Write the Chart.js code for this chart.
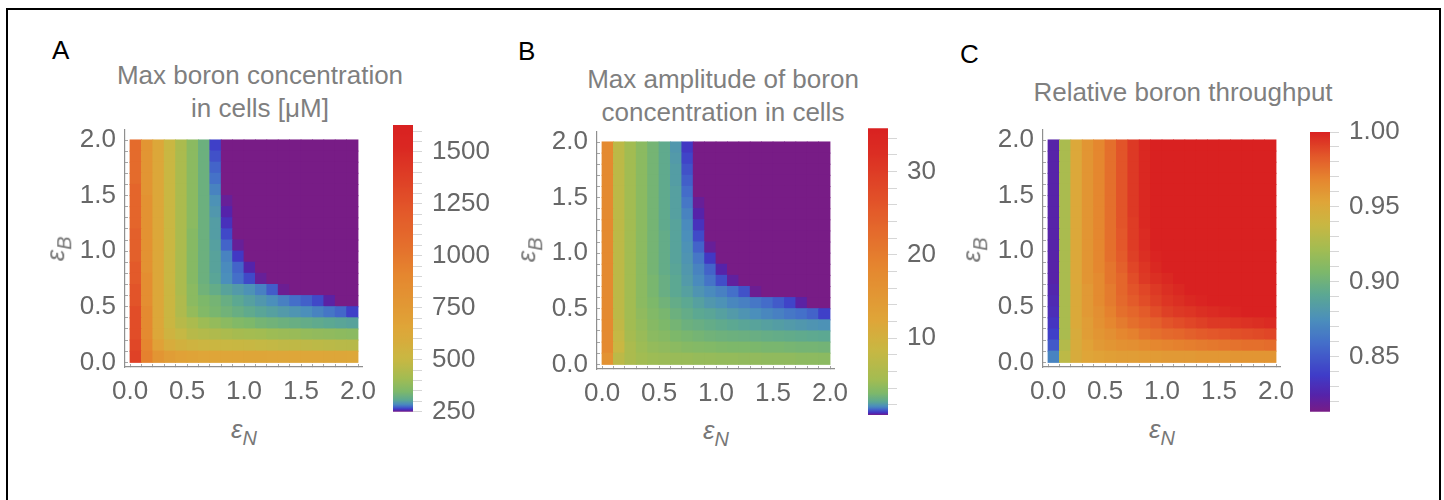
<!DOCTYPE html>
<html lang="en">
<head>
<meta charset="UTF-8">
<title>Boron concentration heatmaps</title>
<script src="https://cdn.jsdelivr.net/npm/chart.js"></script>
<style>
  body { margin: 0; background: #fff; }
  #figure { position: relative; width: 1444px; height: 500px; overflow: hidden; background: #fff;
            font-family: "Liberation Sans", Arial, sans-serif; }
  #frame { position: absolute; left: 6px; top: 8px; width: 1435px; height: 600px;
           border: 2px solid #000; box-sizing: border-box; }
  canvas { position: absolute; }
  .letter { position: absolute; font-size: 26px; line-height: 33px; color: #000; }
  .title { position: absolute; width: 400px; text-align: center; font-size: 26px; line-height: 33px;
           color: #7f7f7f; white-space: nowrap; }
  .eps { position: absolute; width: 60px; text-align: center; font-size: 26px; line-height: 30px;
         color: #777; font-style: italic; white-space: nowrap; }
  .eps span { position: relative; top: 7px; font-size: 20px; }
  .eps.rot { transform-origin: 30px 20.75px; transform: rotate(-90deg); }
</style>
</head>
<body>
<div id="figure">
  <div id="frame"></div>

  <div class="letter" style="left:52px;top:34px">A</div>
  <div class="letter" style="left:518px;top:35px">B</div>
  <div class="letter" style="left:960px;top:38px">C</div>

  <div class="title" style="left:60px;top:59px">Max boron concentration<br>in cells [μM]</div>
  <div class="title" style="left:523px;top:63px">Max amplitude of boron<br>concentration in cells</div>
  <div class="title" style="left:983px;top:76px">Relative boron throughput</div>

  <canvas id="heatA" width="320" height="290" style="left:60px;top:120px"></canvas>
  <canvas id="barA" width="110" height="320" style="left:393px;top:110px"></canvas>
  <canvas id="heatB" width="320" height="290" style="left:532px;top:122px"></canvas>
  <canvas id="barB" width="110" height="320" style="left:868px;top:113px"></canvas>
  <canvas id="heatC" width="320" height="290" style="left:978px;top:120px"></canvas>
  <canvas id="barC" width="110" height="320" style="left:1310px;top:112px"></canvas>

  <div class="eps" style="left:214px;top:414px">ε<span>N</span></div>
  <div class="eps" style="left:686px;top:415px">ε<span>N</span></div>
  <div class="eps" style="left:1132px;top:414px">ε<span>N</span></div>
  <div class="eps rot" style="left:31px;top:228px">ε<span>B</span></div>
  <div class="eps rot" style="left:502px;top:229px">ε<span>B</span></div>
  <div class="eps rot" style="left:947px;top:229px">ε<span>B</span></div>
</div>

<script>
Chart.defaults.font.family = "'Liberation Sans', Arial, sans-serif";

// cell centres: epsN left to right, epsB from the top row down
const epsN = [0.05, 0.15, 0.25, 0.35, 0.45, 0.55, 0.65, 0.75, 0.85, 0.95, 1.05, 1.15, 1.25, 1.35, 1.45, 1.55, 1.65, 1.75, 1.85, 1.95];
const epsB = [1.95, 1.85, 1.75, 1.65, 1.55, 1.45, 1.35, 1.25, 1.15, 1.05, 0.95, 0.85, 0.75, 0.65, 0.55, 0.45, 0.35, 0.25, 0.15, 0.05];
const cellSize = 0.1;

const axisTicks = [0, 0.1, 0.2, 0.3, 0.4, 0.5, 0.6, 0.7, 0.8, 0.9, 1, 1.1, 1.2, 1.3, 1.4, 1.5, 1.6, 1.7, 1.8, 1.9, 2];
const axisLabels = ['0.0', '', '', '', '', '0.5', '', '', '', '', '1.0', '', '', '', '', '1.5', '', '', '', '', '2.0'];

// panel A: max boron concentration in cells [uM]
const maxConcentration = [
  [1080, 782, 637, 508, 431, 371, 326, 264, 250, 250, 250, 250, 250, 250, 250, 250, 250, 250, 250, 250],
  [1080, 782, 637, 508, 431, 371, 326, 268, 250, 250, 250, 250, 250, 250, 250, 250, 250, 250, 250, 250],
  [1080, 782, 637, 508, 431, 371, 326, 273, 250, 250, 250, 250, 250, 250, 250, 250, 250, 250, 250, 250],
  [1080, 782, 637, 508, 431, 371, 326, 277, 250, 250, 250, 250, 250, 250, 250, 250, 250, 250, 250, 250],
  [1121, 782, 637, 508, 431, 371, 326, 282, 250, 250, 250, 250, 250, 250, 250, 250, 250, 250, 250, 250],
  [1121, 814, 637, 508, 431, 371, 326, 290, 253, 250, 250, 250, 250, 250, 250, 250, 250, 250, 250, 250],
  [1121, 814, 637, 508, 431, 371, 326, 294, 256, 250, 250, 250, 250, 250, 250, 250, 250, 250, 250, 250],
  [1121, 814, 637, 508, 431, 371, 326, 298, 260, 250, 250, 250, 250, 250, 250, 250, 250, 250, 250, 250],
  [1161, 814, 637, 508, 431, 363, 326, 298, 266, 250, 250, 250, 250, 250, 250, 250, 250, 250, 250, 250],
  [1161, 814, 637, 508, 431, 363, 326, 300, 273, 253, 250, 250, 250, 250, 250, 250, 250, 250, 250, 250],
  [1161, 814, 637, 508, 431, 363, 326, 302, 282, 262, 250, 250, 250, 250, 250, 250, 250, 250, 250, 250],
  [1202, 814, 637, 508, 431, 363, 326, 302, 286, 273, 256, 250, 250, 250, 250, 250, 250, 250, 250, 250],
  [1202, 847, 637, 508, 431, 363, 326, 304, 288, 276, 266, 253, 250, 250, 250, 250, 250, 250, 250, 250],
  [1242, 847, 637, 516, 431, 371, 332, 316, 302, 296, 290, 281, 271, 252, 250, 250, 250, 250, 250, 250],
  [1242, 847, 637, 516, 441, 371, 347, 337, 321, 306, 300, 294, 288, 281, 276, 272, 266, 255, 250, 250],
  [1282, 879, 637, 516, 441, 387, 355, 342, 332, 321, 311, 304, 300, 296, 292, 288, 282, 278, 274, 264],
  [1282, 879, 637, 516, 461, 431, 403, 387, 371, 355, 347, 337, 332, 326, 321, 316, 311, 306, 304, 302],
  [1282, 879, 637, 540, 492, 461, 451, 441, 431, 421, 416, 411, 403, 399, 395, 387, 383, 379, 375, 371],
  [1323, 911, 685, 589, 557, 540, 524, 516, 508, 505, 500, 492, 487, 482, 479, 476, 471, 466, 463, 461],
  [1363, 943, 782, 717, 685, 673, 661, 661, 661, 661, 656, 656, 651, 651, 649, 649, 649, 647, 647, 644]
];

// panel B: max amplitude of boron concentration in cells
const maxAmplitude = [
  [17.8, 7.4, 5.0, 4.0, 3.15, 2.53, 2.06, 1.13, 0.8, 0.8, 0.8, 0.8, 0.8, 0.8, 0.8, 0.8, 0.8, 0.8, 0.8, 0.8],
  [17.8, 7.4, 5.0, 4.0, 3.15, 2.53, 2.12, 1.23, 0.8, 0.8, 0.8, 0.8, 0.8, 0.8, 0.8, 0.8, 0.8, 0.8, 0.8, 0.8],
  [17.8, 7.4, 5.0, 4.0, 3.15, 2.53, 2.17, 1.33, 0.8, 0.8, 0.8, 0.8, 0.8, 0.8, 0.8, 0.8, 0.8, 0.8, 0.8, 0.8],
  [17.8, 7.4, 5.0, 4.0, 3.15, 2.53, 2.17, 1.43, 0.8, 0.8, 0.8, 0.8, 0.8, 0.8, 0.8, 0.8, 0.8, 0.8, 0.8, 0.8],
  [17.8, 7.4, 5.0, 4.0, 3.15, 2.53, 2.23, 1.53, 0.8, 0.8, 0.8, 0.8, 0.8, 0.8, 0.8, 0.8, 0.8, 0.8, 0.8, 0.8],
  [17.8, 7.4, 5.0, 4.0, 3.15, 2.53, 2.23, 1.62, 0.86, 0.8, 0.8, 0.8, 0.8, 0.8, 0.8, 0.8, 0.8, 0.8, 0.8, 0.8],
  [17.8, 7.4, 5.0, 4.0, 3.15, 2.53, 2.23, 1.72, 0.93, 0.8, 0.8, 0.8, 0.8, 0.8, 0.8, 0.8, 0.8, 0.8, 0.8, 0.8],
  [17.8, 7.4, 5.0, 4.0, 3.15, 2.53, 2.29, 1.83, 1.07, 0.8, 0.8, 0.8, 0.8, 0.8, 0.8, 0.8, 0.8, 0.8, 0.8, 0.8],
  [17.8, 7.4, 5.0, 4.0, 3.15, 2.65, 2.29, 1.89, 1.27, 0.8, 0.8, 0.8, 0.8, 0.8, 0.8, 0.8, 0.8, 0.8, 0.8, 0.8],
  [17.8, 7.4, 5.0, 4.0, 3.15, 2.65, 2.29, 1.95, 1.46, 0.86, 0.8, 0.8, 0.8, 0.8, 0.8, 0.8, 0.8, 0.8, 0.8, 0.8],
  [17.8, 7.4, 5.0, 4.0, 3.15, 2.65, 2.29, 2.00, 1.62, 1.13, 0.8, 0.8, 0.8, 0.8, 0.8, 0.8, 0.8, 0.8, 0.8, 0.8],
  [17.8, 7.4, 5.0, 4.0, 3.15, 2.65, 2.34, 2.06, 1.72, 1.46, 0.93, 0.8, 0.8, 0.8, 0.8, 0.8, 0.8, 0.8, 0.8, 0.8],
  [17.8, 7.4, 5.0, 4.0, 3.28, 2.78, 2.40, 2.12, 1.83, 1.59, 1.30, 0.88, 0.8, 0.8, 0.8, 0.8, 0.8, 0.8, 0.8, 0.8],
  [17.8, 7.4, 5.0, 4.0, 3.28, 2.78, 2.40, 2.23, 2.00, 1.83, 1.69, 1.56, 1.33, 0.84, 0.8, 0.8, 0.8, 0.8, 0.8, 0.8],
  [17.8, 7.4, 5.0, 4.0, 3.4, 3.03, 2.65, 2.40, 2.23, 2.06, 1.95, 1.78, 1.69, 1.62, 1.53, 1.40, 1.23, 0.90, 0.8, 0.8],
  [17.8, 7.4, 5.0, 4.2, 3.6, 3.28, 2.90, 2.65, 2.40, 2.34, 2.23, 2.12, 2.00, 1.89, 1.78, 1.69, 1.62, 1.56, 1.46, 1.20],
  [17.8, 7.83, 5.0, 4.4, 3.8, 3.4, 3.15, 2.90, 2.78, 2.65, 2.53, 2.40, 2.34, 2.29, 2.23, 2.17, 2.12, 2.06, 2.00, 1.95],
  [17.8, 8.27, 5.4, 4.6, 4.0, 3.8, 3.4, 3.28, 3.15, 3.03, 2.96, 2.90, 2.84, 2.78, 2.71, 2.65, 2.59, 2.53, 2.46, 2.40],
  [17.8, 8.7, 5.8, 4.8, 4.4, 4.2, 4.0, 3.8, 3.7, 3.6, 3.5, 3.4, 3.4, 3.34, 3.28, 3.28, 3.21, 3.15, 3.15, 3.09],
  [16.2, 7.4, 5.8, 5.0, 4.8, 4.7, 4.6, 4.6, 4.5, 4.5, 4.4, 4.4, 4.3, 4.3, 4.2, 4.2, 4.2, 4.1, 4.1, 4.0]
];

// panel C: relative boron throughput
const throughput = [
  [0.824, 0.925, 0.951, 0.961, 0.968, 0.976, 0.985, 0.993, 0.998, 1, 1, 1, 1, 1, 1, 1, 1, 1, 1, 1],
  [0.824, 0.925, 0.951, 0.961, 0.968, 0.976, 0.985, 0.993, 0.998, 1, 1, 1, 1, 1, 1, 1, 1, 1, 1, 1],
  [0.824, 0.925, 0.951, 0.961, 0.968, 0.976, 0.985, 0.993, 0.998, 1, 1, 1, 1, 1, 1, 1, 1, 1, 1, 1],
  [0.824, 0.925, 0.951, 0.961, 0.968, 0.976, 0.985, 0.993, 0.998, 1, 1, 1, 1, 1, 1, 1, 1, 1, 1, 1],
  [0.824, 0.925, 0.951, 0.961, 0.968, 0.976, 0.985, 0.993, 0.998, 1, 1, 1, 1, 1, 1, 1, 1, 1, 1, 1],
  [0.824, 0.925, 0.951, 0.961, 0.968, 0.976, 0.985, 0.993, 0.998, 1, 1, 1, 1, 1, 1, 1, 1, 1, 1, 1],
  [0.824, 0.925, 0.951, 0.961, 0.968, 0.976, 0.985, 0.993, 0.998, 1, 1, 1, 1, 1, 1, 1, 1, 1, 1, 1],
  [0.824, 0.925, 0.951, 0.961, 0.968, 0.976, 0.985, 0.992, 0.998, 1, 1, 1, 1, 1, 1, 1, 1, 1, 1, 1],
  [0.824, 0.925, 0.951, 0.961, 0.968, 0.976, 0.984, 0.992, 0.997, 1, 1, 1, 1, 1, 1, 1, 1, 1, 1, 1],
  [0.824, 0.925, 0.951, 0.961, 0.968, 0.976, 0.984, 0.992, 0.997, 1, 1, 1, 1, 1, 1, 1, 1, 1, 1, 1],
  [0.824, 0.925, 0.951, 0.961, 0.968, 0.976, 0.983, 0.991, 0.996, 0.999, 1, 1, 1, 1, 1, 1, 1, 1, 1, 1],
  [0.824, 0.925, 0.951, 0.961, 0.968, 0.974, 0.981, 0.989, 0.994, 0.998, 1, 1, 1, 1, 1, 1, 1, 1, 1, 1],
  [0.824, 0.925, 0.951, 0.961, 0.966, 0.974, 0.979, 0.987, 0.993, 0.996, 0.998, 1, 1, 1, 1, 1, 1, 1, 1, 1],
  [0.826, 0.925, 0.950, 0.959, 0.966, 0.972, 0.979, 0.985, 0.989, 0.993, 0.996, 0.998, 1, 1, 1, 1, 1, 1, 1, 1],
  [0.828, 0.925, 0.950, 0.959, 0.966, 0.972, 0.978, 0.983, 0.987, 0.991, 0.994, 0.996, 0.998, 0.999, 1, 1, 1, 1, 1, 1],
  [0.830, 0.925, 0.950, 0.959, 0.964, 0.970, 0.976, 0.979, 0.983, 0.987, 0.991, 0.993, 0.994, 0.996, 0.997, 0.998, 0.999, 1, 1, 1],
  [0.834, 0.925, 0.950, 0.957, 0.963, 0.968, 0.972, 0.976, 0.979, 0.981, 0.985, 0.987, 0.989, 0.991, 0.993, 0.993, 0.994, 0.995, 0.996, 0.997],
  [0.839, 0.925, 0.948, 0.957, 0.961, 0.964, 0.968, 0.970, 0.974, 0.976, 0.978, 0.979, 0.981, 0.983, 0.984, 0.985, 0.986, 0.987, 0.988, 0.989],
  [0.850, 0.929, 0.948, 0.955, 0.959, 0.961, 0.963, 0.964, 0.966, 0.968, 0.969, 0.970, 0.971, 0.972, 0.973, 0.974, 0.975, 0.976, 0.976, 0.977],
  [0.869, 0.933, 0.948, 0.953, 0.955, 0.956, 0.957, 0.957, 0.958, 0.958, 0.959, 0.959, 0.959, 0.960, 0.960, 0.960, 0.961, 0.961, 0.961, 0.961]
];

// rainbow gradient (position 0..1 -> colour)
const rainbowStops = [0, 0.06, 0.13, 0.25, 0.33, 0.42, 0.50, 0.58, 0.67, 0.75, 0.83, 0.91, 1];
const rainbowColors = ['#781c86', '#5523aa', '#3f3cc8', '#4470c9', '#4b8fbb', '#5ca892', '#7db86a',
                       '#a2bc52', '#c9b742', '#dfa538', '#e5862f', '#e35a2a', '#d92121'];

// colour bar scaling: value -> position on the gradient
const levelsA = [250, 258, 266, 282, 306, 347, 411, 492, 589, 685, 782, 911, 1040, 1202, 1363, 1524, 1629];
const posA = [0, 0.08, 0.16, 0.30, 0.42, 0.50, 0.58, 0.66, 0.72, 0.76, 0.79, 0.83, 0.87, 0.91, 0.95, 0.99, 1];
const levelsB = [0.8, 0.9, 1.2, 1.72, 2.4, 3.4, 5.0, 7.4, 10, 12.2, 16.2, 21, 26.2, 32.2, 35.2];
const posB = [0, 0.05, 0.14, 0.30, 0.42, 0.50, 0.58, 0.64, 0.70, 0.75, 0.80, 0.86, 0.92, 0.98, 1];
const levelsC = [0.8133, 1.0];
const posC = [0, 1];

const ticksA = [250, 300, 350, 400, 450, 500, 550, 600, 650, 700, 750, 800, 850, 900, 950, 1000,
                1050, 1100, 1150, 1200, 1250, 1300, 1350, 1400, 1450, 1500, 1550, 1600];
const labelsA = ['250', '', '', '', '', '500', '', '', '', '', '750', '', '', '', '', '1000',
                 '', '', '', '', '1250', '', '', '', '', '1500', '', ''];
const ticksB = [2, 4, 6, 8, 10, 12, 14, 16, 18, 20, 22, 24, 26, 28, 30, 32, 34];
const labelsB = ['', '', '', '', '10', '', '', '', '', '20', '', '', '', '', '30', '', ''];
const ticksC = [0.82, 0.83, 0.84, 0.85, 0.86, 0.87, 0.88, 0.89, 0.90, 0.91, 0.92, 0.93, 0.94,
                0.95, 0.96, 0.97, 0.98, 0.99, 1.00];
const labelsC = ['', '', '', '0.85', '', '', '', '', '0.90', '', '', '', '', '0.95', '', '', '', '', '1.00'];

const rainbowRgb = rainbowColors.map(h => [parseInt(h.slice(1, 3), 16), parseInt(h.slice(3, 5), 16), parseInt(h.slice(5, 7), 16)]);

function lookup(x, xs, ys) {
  if (x <= xs[0]) return ys[0];
  for (let i = 1; i < xs.length; i++) {
    if (x <= xs[i]) {
      const f = (x - xs[i - 1]) / (xs[i] - xs[i - 1]);
      return ys[i - 1] + f * (ys[i] - ys[i - 1]);
    }
  }
  return ys[ys.length - 1];
}

function rainbow(t) {
  t = Math.min(1, Math.max(0, t));
  let i = 1;
  while (i < rainbowStops.length - 1 && t > rainbowStops[i]) i++;
  const f = (t - rainbowStops[i - 1]) / (rainbowStops[i] - rainbowStops[i - 1]);
  const a = rainbowRgb[i - 1], b = rainbowRgb[i];
  const c = [0, 1, 2].map(k => Math.round(a[k] + f * (b[k] - a[k])));
  return 'rgb(' + c.join(',') + ')';
}

function colourFor(v, levels, positions) {
  return rainbow(lookup(v, levels, positions));
}

function cellRadius(chart) {
  const xs = chart.scales.x, ys = chart.scales.y;
  const w = Math.abs(xs.getPixelForValue(cellSize) - xs.getPixelForValue(0));
  const h = Math.abs(ys.getPixelForValue(cellSize) - ys.getPixelForValue(0));
  // 'rect' points are 2 * r * sqrt(1/2) wide
  return (Math.max(w, h) + 0.8) / (2 * Math.SQRT1_2);
}

function frameAxis(dir) {
  return {
    type: 'linear',
    min: dir === 'x' ? -0.044 : -0.042,
    max: dir === 'x' ? 2.035 : 2.09,
    afterBuildTicks: s => { s.ticks = axisTicks.map(v => ({ value: v })); },
    afterFit: s => {
      if (dir === 'x') s.height = 43; else s.width = 65;
      s.paddingLeft = 0; s.paddingRight = 0; s.paddingTop = 0; s.paddingBottom = 0;
    },
    ticks: {
      autoSkip: false, maxRotation: 0, padding: 12, color: '#676767',
      font: { size: 26 },
      callback: (v, i) => axisLabels[i]
    },
    grid: { drawOnChartArea: false, tickLength: -3, color: '#a6a6a6', lineWidth: 1 },
    border: { color: '#8f8f8f', width: 1.2 }
  };
}

function heatmap(id, grid, levels, positions) {
  const points = [];
  grid.forEach((row, j) => row.forEach((v, i) => points.push({ x: epsN[i], y: epsB[j], v: v })));
  return new Chart(document.getElementById(id), {
    type: 'scatter',
    data: {
      datasets: [{
        data: points,
        pointStyle: 'rect',
        pointBorderWidth: 0,
        pointRadius: ctx => cellRadius(ctx.chart),
        pointHoverRadius: ctx => cellRadius(ctx.chart),
        pointBackgroundColor: ctx => ctx.raw ? colourFor(ctx.raw.v, levels, positions) : 'rgba(0,0,0,0)'
      }]
    },
    options: {
      responsive: false,
      animation: false,
      events: [],
      layout: { padding: { top: 10, right: 18, bottom: 0, left: 0 } },
      plugins: { legend: { display: false }, tooltip: { enabled: false } },
      scales: { x: frameAxis('x'), y: frameAxis('y') }
    }
  });
}

function barGradient(chart, lo, hi, levels, positions) {
  if (!chart.chartArea) return rainbow(0.5);
  const ys = chart.scales.y;
  const g = chart.ctx.createLinearGradient(0, ys.getPixelForValue(lo), 0, ys.getPixelForValue(hi));
  for (let k = 0; k <= 200; k++) {
    g.addColorStop(k / 200, colourFor(lo + (hi - lo) * k / 200, levels, positions));
  }
  return g;
}

function colourbar(id, levels, positions, ticks, labels, padTop, padBottom) {
  const lo = levels[0], hi = levels[levels.length - 1];
  return new Chart(document.getElementById(id), {
    type: 'bar',
    data: {
      labels: [''],
      datasets: [{
        data: [[lo, hi]],
        backgroundColor: ctx => barGradient(ctx.chart, lo, hi, levels, positions),
        borderWidth: 0,
        barPercentage: 1,
        categoryPercentage: 1
      }]
    },
    options: {
      responsive: false,
      animation: false,
      events: [],
      layout: { padding: { top: padTop, bottom: padBottom, left: 0, right: 0 } },
      plugins: { legend: { display: false }, tooltip: { enabled: false } },
      scales: {
        x: { display: false },
        y: {
          position: 'right', min: lo, max: hi,
          afterBuildTicks: s => { s.ticks = ticks.map(v => ({ value: v })); },
          afterFit: s => { s.width = 90; s.paddingTop = 0; s.paddingBottom = 0; },
          ticks: { autoSkip: false, padding: 10, color: '#676767', font: { size: 26 },
                   callback: (v, i) => labels[i] },
          grid: { drawOnChartArea: false, tickLength: 9, color: '#d6d6d6' },
          border: { display: false }
        }
      }
    }
  });
}

heatmap('heatA', maxConcentration, levelsA, posA);
heatmap('heatB', maxAmplitude, levelsB, posB);
heatmap('heatC', throughput, levelsC, posC);

colourbar('barA', levelsA, posA, ticksA, labelsA, 15, 18.3);
colourbar('barB', levelsB, posB, ticksB, labelsB, 15.3, 18);
colourbar('barC', levelsC, posC, ticksC, labelsC, 20, 20.3);
</script>
</body>
</html>
